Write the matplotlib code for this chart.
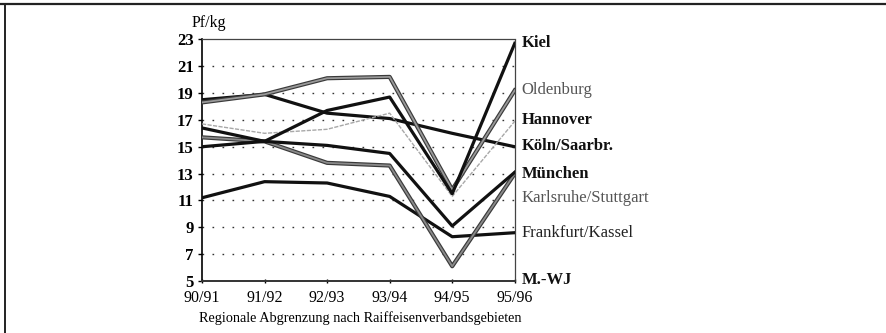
import matplotlib
matplotlib.use("Agg")
import matplotlib.pyplot as plt
import matplotlib.patheffects as pe
from matplotlib.lines import Line2D

plt.rcParams['font.family'] = ['Liberation Serif', 'DejaVu Serif']

# Wirtschaftsjahre und Preise (Pf/kg) je Raiffeisenverbandsgebiet
jahre = ['90/91', '91/92', '92/93', '93/94', '94/95', '95/96']
kiel = [15.0, 15.4, 17.7, 18.7, 11.5, 22.7]
oldenburg = [18.3, 18.9, 20.1, 20.2, 11.8, 19.2]
hannover = [16.7, 16.0, 16.3, 17.5, 11.3, 16.9]
koeln = [18.5, 18.9, 17.5, 17.1, 16.0, 15.0]
muenchen = [16.4, 15.4, 15.1, 14.5, 9.1, 13.1]
karlsruhe = [15.7, 15.4, 13.8, 13.6, 6.1, 13.0]
frankfurt = [11.2, 12.4, 12.3, 11.3, 8.3, 8.6]
y_ticks = [5, 7, 9, 11, 13, 15, 17, 19, 21, 23]

fig = plt.figure(figsize=(8.86, 3.33), dpi=100)
ax = fig.add_axes([0.228, 0.156, 0.353, 0.726])
x = range(len(jahre))

# Gitter
for v in y_ticks[1:-1]:
    ax.axhline(v, color='#333333', lw=1.0, linestyle=(0, (1.2, 6)), zorder=1)

doppelt = [pe.Stroke(linewidth=3.0, foreground='#3a3a3a'), pe.Normal()]

ax.plot(x, frankfurt, color='#111111', lw=2.3, zorder=3)
ax.plot(x, karlsruhe, color='#8a8a8a', lw=1.3, zorder=3, path_effects=doppelt)
ax.plot(x, muenchen, color='#111111', lw=2.3, zorder=3)
ax.plot(x, koeln, color='#111111', lw=2.3, zorder=3)
ax.plot(x, hannover, color='#a8a8a8', lw=1.0, linestyle=(0, (3, 1)), zorder=3)
ax.plot(x, oldenburg, color='#999999', lw=1.3, zorder=3, path_effects=doppelt)
ax.plot(x, kiel, color='#111111', lw=2.3, zorder=4)

ax.set_xlim(0, len(jahre) - 1)
ax.set_ylim(5, 23)
ax.set_xticks(list(x))
ax.set_xticklabels(jahre, fontsize=11.5)
ax.set_yticks(y_ticks)
ax.set_yticklabels([str(v) for v in y_ticks], fontsize=12, fontweight='bold')
ax.tick_params(axis='y', direction='out', length=3, width=1, pad=3)
ax.tick_params(axis='x', direction='inout', length=3, width=1, pad=5)

ax.spines['left'].set_linewidth(1.2)
ax.spines['bottom'].set_linewidth(1.4)
ax.spines['bottom'].set_color('#333333')
for s in ['top', 'right']:
    ax.spines[s].set_linestyle((0, (1, 1)))
    ax.spines[s].set_linewidth(0.9)
    ax.spines[s].set_color('#444444')

# Beschriftungen am rechten Rand
beschriftung = [
    ('Kiel', 22.7, 'bold', '#111111'),
    ('Oldenburg', 19.25, 'normal', '#555555'),
    ('Hannover', 17.0, 'bold', '#111111'),
    ('Köln/Saarbr.', 15.05, 'bold', '#111111'),
    ('München', 13.0, 'bold', '#111111'),
    ('Karlsruhe/Stuttgart', 11.15, 'normal', '#555555'),
    ('Frankfurt/Kassel', 8.55, 'normal', '#222222'),
    ('M.-WJ', 5.05, 'bold', '#111111'),
]
for txt, yv, fw, col in beschriftung:
    ax.annotate(txt, xy=(len(jahre) - 1, yv), xytext=(5, 0), textcoords='offset points',
                va='center', ha='left', fontsize=12, fontweight=fw, color=col,
                annotation_clip=False)

ax.text(-0.032, 1.067, 'Pf/kg', transform=ax.transAxes, fontsize=11.5, ha='left', va='center')
ax.text(0.505, -0.153, 'Regionale Abgrenzung nach Raiffeisenverbandsgebieten',
        transform=ax.transAxes, fontsize=10.3, ha='center', va='center')

# Rahmen des Scans
fig.add_artist(Line2D([0.0, 1.0], [0.9865, 0.9865], transform=fig.transFigure,
                      color='#222222', lw=1.6))
fig.add_artist(Line2D([0.0056, 0.0056], [0.0, 0.9865], transform=fig.transFigure,
                      color='#222222', lw=1.4))

fig.savefig('out.png', dpi=100)
